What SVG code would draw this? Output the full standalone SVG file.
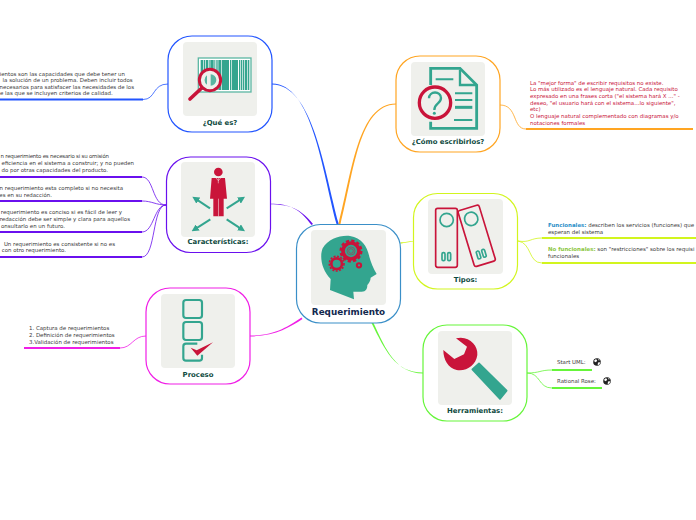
<svg xmlns="http://www.w3.org/2000/svg" width="696" height="520" viewBox="0 0 696 520">
<style>
text{font-family:"DejaVu Sans",Verdana,sans-serif}
.box{fill:#fff;stroke-width:1.2}
.bg{fill:#eff0ec}
.lbl{font-size:6.9px;font-weight:700;fill:#0e4a40;text-anchor:middle}
.t{font-size:5.45px;fill:#3a3a3a}
.c{fill:#c9143a}
.e{text-anchor:end}
.r{fill:#c9143a}
.g{fill:#33a58f}
.rs{fill:none;stroke:#c9143a}
.gs{fill:none;stroke:#33a58f}
.lf{fill:none;stroke-width:.8}
.ln{fill:none;stroke-width:1.8}
.blue{stroke:#2255ff}.pur{stroke:#6a10ee}.mag{stroke:#f01ee6}.ora{stroke:#ffa522}.yel{stroke:#d2f51e}.grn{stroke:#66f53a}
</style>
<defs>
<marker id="ah" viewBox="0 0 10 10" refX="5" refY="5" markerWidth="3.6" markerHeight="3.6" orient="auto"><path d="M0,0L10,5L0,10Z" fill="#33a58f"/></marker>
<g id="globe"><circle r="3.8" fill="#222"/><path d="M-3.2,-1 L-1,-2.9 L0.2,-1.2 L-1.2,0.3 Z M1,0.6 L3.4,0.2 L2.2,2.8 L0.7,3.1 Z M1.2,-3.3 L2.9,-2.1 L1.7,-1.4 Z" fill="#fff"/></g>
</defs>

<g id="connectors">
<path d="M336.500,224 C322,170 312,83.600 272,83.600 L272,84.400 C313,84.600 324,170 338.800,224Z" fill="#2255ff"/>
<path d="M338.500,224 C352,172 358,103.600 396,103.600 L396,104.400 C359,104.600 354,172 340.500,224Z" fill="#ffa522"/>
<path d="M311.500,225 C300,209 290,203.700 270,203.700 L270,204.300 C290,204.900 300,208 313,224Z" fill="#6a10ee"/>
<path d="M301.500,317.500 C289,326 275,335.600 250,335.600 L250,336.400 C275,336.400 290,327 302.500,319Z" fill="#f01ee6"/>
<path d="M371.500,323 C385,350 395,372.600 423,372.600 L423,373.400 C396,373.400 386,350 373.500,323Z" fill="#66f53a"/>
<path d="M400.500,242.300 C405,242.300 409,241.400 413,241 L413,241.600 C409,242 405,243 400.500,243.700Z" fill="#d2f51e"/>

<path class="lf blue" d="M168,84 C152,84 156,99.500 143,99.500"/>
<path class="ln blue" d="M0,99.500H143"/>
<path class="lf pur" d="M166,205 C152,205 154,177 142,177"/>
<path class="lf pur" d="M166,205 C156,205 152,201 142,201"/>
<path class="lf pur" d="M166,205 C154,205 154,232 142,232"/>
<path class="lf pur" d="M166,205 C152,205 156,257 142,257"/>
<path class="ln pur" d="M0,177H142M0,201H142M0,232H142M0,257H142"/>
<path class="lf mag" d="M146,336 C133,336 132,348 120,348"/>
<path class="ln mag" d="M24,348H120"/>
<path class="lf ora" d="M500,105 C518,105 512,129 526,129"/>
<path class="ln ora" d="M526,129H693"/>
<path class="lf yel" d="M518,241 C530,243 530,238 542,238"/>
<path class="lf yel" d="M518,241 C532,243 528,263 542,263"/>
<path class="ln yel" d="M542,238H696M542,263H696"/>
<path class="lf grn" d="M527,373 C540,373 540,370 552,370"/>
<path class="lf grn" d="M527,373 C541,373 538,388 552,388"/>
<path class="ln grn" d="M552,370H592M552,388H602"/>
</g>

<g id="requerimiento">
<rect class="box" x="296.500" y="224.500" width="104" height="98.500" rx="24" stroke="#3a8fc8"/>
<rect class="bg" x="311" y="230" width="75" height="75" rx="4"/>
<g transform="translate(280 215) scale(.3333)">
<path class="g" d="M150,225 L152,192 C125,165 118,125 128,100 C145,72 180,60 210,63 C245,68 262,95 268,125 C272,140 280,160 290,177 L272,188 C272,198 266,205 262,210 C262,222 258,230 245,230 L220,230 L222,253Z"/>
<g class="rs"><circle cx="213" cy="108" r="24" stroke-width="11"/><circle cx="213" cy="108" r="31" stroke-width="7" stroke-dasharray="9.700 6.500"/><circle cx="213" cy="108" r="12" stroke-width="1.500"/><circle cx="213" cy="108" r="7" stroke-width="1.500"/>
<circle cx="170" cy="146" r="16" stroke-width="8"/><circle cx="170" cy="146" r="22" stroke-width="5" stroke-dasharray="6 4.400"/>
<circle cx="237" cy="151" r="6.500" stroke-width="6"/></g>
</g>
<text x="348.500" y="315" font-size="8.800" font-weight="700" fill="#12294f" text-anchor="middle">Requerimiento</text>
</g>

<g id="que-es">
<rect class="box blue" x="168" y="36" width="104" height="96" rx="24"/>
<rect class="bg" x="183" y="42" width="74" height="74" rx="4"/>
<g transform="translate(160 30) scale(.3333)">
<rect x="115" y="84" width="158" height="102" fill="#fff" stroke="#5fb8a5" stroke-width="4"/>
<path class="gs" d="M122,135H268" stroke-width="90" stroke-dasharray="8 2 4 2 6 2 3 2 10 2 3 3 4 2 8 2 22 3 4 2 18 3 4 2 3 2 4 2"/>
<path class="rs" d="M122,177L90,207" stroke-width="11" stroke-linecap="round"/>
<circle cx="150" cy="150" r="32" fill="#eff0ec" stroke="#c9143a" stroke-width="9"/>
<path class="g" d="M152,133 A17,17 0 0 1 152,167Z M141,136 A17,17 0 0 0 141,164Z" opacity=".8"/>
</g>
<text class="lbl" x="220" y="125">¿Qué es?</text>
</g>

<g id="caracteristicas">
<rect class="box pur" x="166.500" y="157" width="104" height="95.500" rx="24"/>
<rect class="bg" x="181" y="162" width="74" height="75" rx="4"/>
<g transform="translate(160 150) scale(.3333)">
<circle class="r" cx="175" cy="66" r="13"/>
<path class="r" d="M155,84H195L201,146H191V199H160V146H150Z"/>
<path d="M175,84V100M168,84L175,92L182,84M175.500,146V199" stroke="#fff" stroke-width="1.500" fill="none"/>
<g class="gs" stroke-width="6">
<path d="M150,175L106,146" marker-end="url(#ah)"/><path d="M200,175L246,146" marker-end="url(#ah)"/><path d="M151,208L104,238" marker-end="url(#ah)"/><path d="M200,208L246,238" marker-end="url(#ah)"/>
</g>
</g>
<text class="lbl" x="218" y="244">Características:</text>
</g>

<g id="proceso">
<rect class="box mag" x="146" y="288" width="104" height="96" rx="24"/>
<rect class="bg" x="161" y="294" width="74" height="74" rx="4"/>
<g transform="translate(140 282) scale(.3333)">
<g class="gs" stroke-width="6.500">
<rect x="130" y="54" width="56" height="54" rx="8"/>
<rect x="130" y="120" width="56" height="54" rx="8"/>
<path d="M172,185H138Q130,185 130,193V228Q130,236 138,236H178Q186,236 186,228V218"/>
</g>
<path class="r" d="M152,197L170,205L219,181L172,221Z"/>
</g>
<text class="lbl" x="198" y="377">Proceso</text>
</g>

<g id="como-escribirlos">
<rect class="box ora" x="396" y="56" width="104" height="96" rx="24"/>
<rect class="bg" x="411" y="62" width="74" height="74" rx="4"/>
<g transform="translate(385 50) scale(.3333)">
<path class="gs" stroke-width="8.500" d="M137,105V55H225L275,105V235H137V215"/>
<path class="gs" stroke-width="7" d="M225,60V105H275"/>
<path class="gs" stroke-width="6" d="M152,88H205M210,130H262M210,150H262M207,210H262"/>
<path class="gs" stroke-width="9" d="M210,172H262"/>
<circle cx="150" cy="158" r="47" fill="#eff0ec" stroke="#c9143a" stroke-width="10"/>
<path class="gs" stroke-width="7" d="M132,145C132,122 168,122 168,144C168,162 148,158 148,180"/>
<circle class="g" cx="148" cy="190" r="4.500"/>
</g>
<text class="lbl" x="448" y="144">¿Cómo escribirlos?</text>
</g>

<g id="tipos">
<rect class="box yel" x="413.500" y="193.500" width="104" height="95.500" rx="24"/>
<rect class="bg" x="428" y="199" width="75" height="75" rx="4"/>
<g transform="translate(400 185) scale(.3333)">
<rect class="rs" x="107" y="70" width="65" height="177" rx="6" stroke-width="5"/>
<circle class="gs" cx="140" cy="105" r="20" stroke-width="5"/>
<rect class="gs" x="126" y="203" width="9" height="24" rx="4" stroke-width="5"/>
<rect class="gs" x="143" y="203" width="9" height="24" rx="4" stroke-width="5"/>
<g transform="rotate(-17 230 152)">
<rect class="rs" x="197" y="65" width="66" height="175" rx="6" stroke-width="5"/>
<circle class="gs" cx="229" cy="99" r="20" stroke-width="5"/>
<rect class="gs" x="214" y="197" width="9" height="24" rx="4" stroke-width="5"/>
<rect class="gs" x="231" y="197" width="9" height="24" rx="4" stroke-width="5"/>
</g>
</g>
<text class="lbl" x="465.500" y="282">Tipos:</text>
</g>

<g id="herramientas">
<rect class="box grn" x="423" y="325" width="104" height="96" rx="24"/>
<rect class="bg" x="438" y="331" width="74" height="74" rx="4"/>
<g transform="translate(415 320) scale(.3333)">
<path class="r" d="M123,55C160,45 190,75 187,105C183,135 155,155 125,150C100,145 85,120 85,90L118,117L147,103L156,80Z"/>
<path class="g" d="M172,148L192,130L275,212L255,237Z" stroke="#33a58f" stroke-width="5" stroke-linejoin="round"/>
</g>
<text class="lbl" x="475" y="413">Herramientas:</text>
</g>

<g id="texto-que-es">
<text class="t e" x="125" y="75.700">ientos son las capacidades que debe tener un</text>
<text class="t e" x="132.700" y="82">la solución de un problema. Deben incluir todos</text>
<text class="t e" x="134" y="88.700">necesarios para satisfacer las necesidades de los</text>
<text class="t e" x="112.700" y="95">e las que se incluyen criterios de calidad.</text>
</g>
<g id="texto-caracteristicas">
<text class="t" x="0.500" y="158.300" textLength="108.500">n requerimiento es necesario si su omisión</text>
<text class="t e" x="134" y="165.300">eficiencia en el sistema a construir; y no pueden</text>
<text class="t e" x="108" y="172">do por otras capacidades del producto.</text>
<text class="t e" x="123" y="190">n requerimiento esta completo si no necesita</text>
<text class="t e" x="52" y="196.700">es en su redacción.</text>
<text class="t e" x="122" y="214">requerimiento es conciso si es fácil de leer y</text>
<text class="t e" x="130" y="221">redacción debe ser simple y clara para aquellos</text>
<text class="t e" x="65" y="227.700">onsultarlo en un futuro.</text>
<text class="t e" x="115" y="245.700">Un requerimiento es consistente si no es</text>
<text class="t e" x="66" y="251.700">con otro requerimiento.</text>
</g>
<g id="texto-proceso">
<text class="t" x="29" y="330.300">1. Captura de requerimientos</text>
<text class="t" x="29" y="337">2. Definición de requerimientos</text>
<text class="t" x="29" y="343.700">3.Validación de requerimientos</text>
</g>
<g id="texto-como">
<text class="t c" x="530" y="85">La "mejor forma" de escribir requisitos no existe.</text>
<text class="t c" x="530" y="91.300">Lo más utilizado es el lenguaje natural. Cada requisito</text>
<text class="t c" x="530" y="97.700">expresado en una frases corta ("el sistema hará X ..." -</text>
<text class="t c" x="530" y="105">deseo, "el usuario hará con el sistema…lo siguiente",</text>
<text class="t c" x="530" y="111.300">etc)</text>
<text class="t c" x="530" y="117.700">O lenguaje natural complementado con diagramas y/o</text>
<text class="t c" x="530" y="124.700">notaciones formales</text>
</g>
<g id="texto-tipos">
<text class="t" x="548" y="226.700"><tspan font-weight="700" fill="#2a8fc8">Funcionales:</tspan> describen los servicios (funciones) que</text>
<text class="t" x="548" y="233.700">esperan del sistema</text>
<text class="t" x="548" y="251.300"><tspan font-weight="700" fill="#8cc63f">No funcionales:</tspan> son "restricciones" sobre los requisi</text>
<text class="t" x="548" y="258">funcionales</text>
</g>
<g id="texto-herramientas">
<text class="t" x="557" y="364.300">Start UML:</text>
<use href="#globe" x="597" y="362"/>
<text class="t" x="557" y="382.700">Rational Rose:</text>
<use href="#globe" x="607" y="381"/>
</g>
</svg>
